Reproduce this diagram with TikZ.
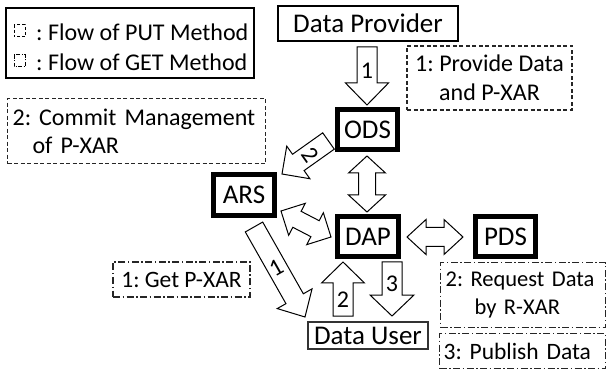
\documentclass[tikz,border=0pt]{standalone}
\usepackage{fontspec}
\setmainfont{Carlito}
\usetikzlibrary{calc}
\newcommand{\blkarrow}[5]{%
  \coordinate (tmpS) at ($(#2)!#5!(#1)$);
  \draw[blockarrow] ($(#1)!#3!90:(#2)$) -- ($(tmpS)!#3!-90:(#1)$) -- ($(tmpS)!#4!-90:(#1)$) -- (#2) -- ($(tmpS)!#4!90:(#1)$) -- ($(tmpS)!#3!90:(#1)$) -- ($(#1)!#3!-90:(#2)$) -- cycle;
}
\newcommand{\dblarrow}[5]{%
  \coordinate (tmpA) at ($(#1)!#5!(#2)$);
  \coordinate (tmpB) at ($(#2)!#5!(#1)$);
  \draw[blockarrow] (#1) -- ($(tmpA)!#4!90:(#2)$) -- ($(tmpA)!#3!90:(#2)$) -- ($(tmpB)!#3!-90:(#1)$) -- ($(tmpB)!#4!-90:(#1)$) -- (#2) -- ($(tmpB)!#4!90:(#1)$) -- ($(tmpB)!#3!90:(#1)$) -- ($(tmpA)!#3!-90:(#2)$) -- ($(tmpA)!#4!-90:(#2)$) -- cycle;
}
\tikzset{
  blockarrow/.style={draw=black, fill=white, line width=1pt, line join=miter},
  mainbox/.style={draw=black, line width=5pt, inner sep=0pt, font=\fontsize{27}{32}\selectfont},
  thinbox/.style={draw=black, inner sep=0pt, font=\fontsize{27}{32}\selectfont},
  putbox/.style={draw=black!85, line width=1.2pt, dash pattern=on 4pt off 2.5pt, inner sep=0pt, font=\fontsize{24}{28.5}\selectfont},
  getbox/.style={draw=black!85, line width=1.2pt, dash pattern=on 7pt off 2.5pt on 1.5pt off 2.5pt, inner sep=0pt, font=\fontsize{23.5}{28.5}\selectfont},
  numlabel/.style={inner sep=0pt, font=\fontsize{24}{28}\selectfont},
  legtext/.style={inner sep=0pt, anchor=west, font=\fontsize{24}{28}\selectfont},
}
\begin{document}
\frenchspacing
\begin{tikzpicture}[x=1pt, y=-1pt]
\useasboundingbox (0,0) rectangle (608,374);
% legend
\node[draw=black, line width=1.2pt, minimum width=248pt, minimum height=70pt, inner sep=0pt] (legend) at (130,43) {};
\draw[black, line width=1pt, dash pattern=on 3pt off 2pt] (14,25) rectangle (25,37);
\draw[black, line width=1pt, dash pattern=on 4pt off 1.5pt on 1pt off 1.5pt] (14,55) rectangle (25,67);
\node[legtext] (lput) at (36,32) {: Flow of PUT Method};
\node[legtext] (lget) at (36,62) {: Flow of GET Method};
% main nodes
\node[thinbox, line width=2pt, minimum width=180pt, minimum height=35pt] (dp) at (368,23.5) {Data Provider};
\node[mainbox, minimum width=60pt, minimum height=40pt] (ods) at (367.5,129.5) {ODS};
\node[mainbox, minimum width=61pt, minimum height=41pt] (ars) at (244,195) {ARS};
\node[mainbox, minimum width=61pt, minimum height=40pt] (dap) at (368,236.5) {DAP};
\node[mainbox, minimum width=60pt, minimum height=40pt] (pds) at (505.5,236.5) {PDS};
\node[thinbox, draw=black!80, line width=1.6pt, minimum width=120.5pt, minimum height=27.5pt] (du) at (368,335.5) {Data User};
% annotations
\node[putbox, minimum width=165pt, minimum height=64pt, align=center] (nprov) at (489.5,78) {1: Provide Data\\and P-XAR};
\node[putbox, anchor=north west, text width=248pt, inner xsep=5pt, minimum height=65pt, align=left] (ncommit) at (7,98) {\mbox{2: Commit Management}\\\hspace*{20pt}of P-XAR};
\node[getbox, minimum width=137pt, minimum height=35pt] (nget) at (181.5,279.5) {1: Get P-XAR};
\node[getbox, anchor=north west, text width=155pt, inner xsep=5pt, minimum height=65pt, align=left, font=\fontsize{22.5}{28.5}\selectfont] (nreq) at (440,262) {\mbox{2: Request Data}\\\hspace*{29pt}by R-XAR};
\node[getbox, anchor=north west, text width=158pt, inner xsep=4pt, minimum height=35pt, align=left] (npub) at (439,333) {\mbox{3: Publish Data}};
% arrow end points
\coordinate (a1t) at (367,47);   \coordinate (a1h) at (367,105);
\coordinate (a2t) at (328.5,141); \coordinate (a2h) at (282,174);
\coordinate (a3t) at (367,156);  \coordinate (a3h) at (367,212);
\coordinate (a4t) at (281,211);  \coordinate (a4h) at (331,237);
\coordinate (a5t) at (407,237);  \coordinate (a5h) at (463,237);
\coordinate (a6t) at (254,227);  \coordinate (a6h) at (305,317);
\coordinate (a7t) at (343,316);  \coordinate (a7h) at (343,262);
\coordinate (a8t) at (392,262);  \coordinate (a8h) at (392,316);
% block arrows
\blkarrow{a1t}{a1h}{10pt}{21.5pt}{22pt}
\blkarrow{a2t}{a2h}{10pt}{20pt}{20pt}
\dblarrow{a3t}{a3h}{8.5pt}{18.5pt}{17pt}
\dblarrow{a4t}{a4h}{9pt}{18pt}{18pt}
\dblarrow{a5t}{a5h}{9.5pt}{17.5pt}{19pt}
\blkarrow{a6t}{a6h}{10pt}{20pt}{21pt}
\blkarrow{a7t}{a7h}{10pt}{21.5pt}{21pt}
\blkarrow{a8t}{a8h}{10pt}{22pt}{21pt}
% arrow labels
\node[numlabel] (n1) at (367,71) {1};
\node[numlabel, rotate=-54.6] (n2) at (310,155) {2};
\node[numlabel, rotate=29.5] (n3) at (276,268) {1};
\node[numlabel] (n4) at (343,300) {2};
\node[numlabel] (n5) at (392,284) {3};
\end{tikzpicture}
\end{document}
